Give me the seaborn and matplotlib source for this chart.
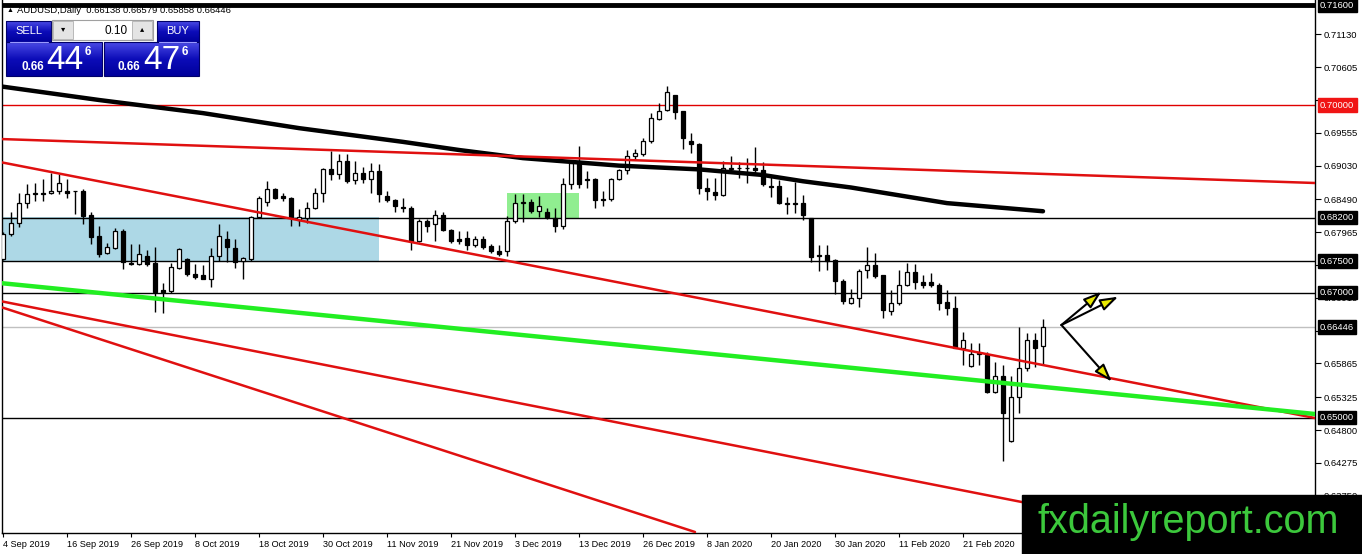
import numpy as np
import matplotlib
matplotlib.use("Agg")
import matplotlib.pyplot as plt
from matplotlib.colors import LinearSegmentedColormap
from matplotlib.patches import Rectangle
import seaborn as sns

# daily AUDUSD candles, 4 Sep 2019 .. 6 Mar 2020
opens = [0.6754, 0.6794, 0.6811, 0.6843, 0.6858, 0.6859, 0.6859, 0.6862, 0.6862, 0.6863,
         0.6863, 0.6824, 0.6790, 0.6764, 0.6772, 0.6799, 0.6747, 0.6745, 0.6759, 0.6747,
         0.6704, 0.6703, 0.6739, 0.6754, 0.6730, 0.6728, 0.6722, 0.6759, 0.6786, 0.6772,
         0.6750, 0.6753, 0.6821, 0.6845, 0.6866, 0.6854, 0.6851, 0.6816, 0.6819, 0.6836,
         0.6859, 0.6898, 0.6889, 0.6911, 0.6880, 0.6891, 0.6882, 0.6895, 0.6855, 0.6848,
         0.6837, 0.6835, 0.6783, 0.6814, 0.6809, 0.6824, 0.6800, 0.6785, 0.6788, 0.6776,
         0.6785, 0.6774, 0.6766, 0.6766, 0.6815, 0.6843, 0.6845, 0.6831, 0.6829, 0.6820,
         0.6807, 0.6873, 0.6908, 0.6882, 0.6882, 0.6850, 0.6850, 0.6882, 0.6896, 0.6918,
         0.6922, 0.6943, 0.6977, 0.6992, 0.7016, 0.6991, 0.6943, 0.6937, 0.6867, 0.6861,
         0.6856, 0.6897, 0.6900, 0.6900, 0.6899, 0.6896, 0.6870, 0.6870, 0.6843, 0.6841,
         0.6844, 0.6819, 0.6760, 0.6760, 0.6752, 0.6719, 0.6683, 0.6691, 0.6736, 0.6744,
         0.6728, 0.6671, 0.6684, 0.6712, 0.6733, 0.6717, 0.6717, 0.6712, 0.6684, 0.6675,
         0.6612, 0.6583, 0.6602, 0.6600, 0.6541, 0.6566, 0.6463, 0.6533, 0.6580, 0.6624,
         0.66138]
highs = [0.6797, 0.6829, 0.6860, 0.6874, 0.6875, 0.6882, 0.6892, 0.6889, 0.6882, 0.6863,
         0.6866, 0.6829, 0.6807, 0.6779, 0.6804, 0.6802, 0.6778, 0.6777, 0.6768, 0.6773,
         0.6716, 0.6748, 0.6771, 0.6756, 0.6746, 0.6744, 0.6771, 0.6809, 0.6799, 0.6786,
         0.6757, 0.6823, 0.6855, 0.6878, 0.6868, 0.6859, 0.6853, 0.6834, 0.6845, 0.6868,
         0.6900, 0.6927, 0.6921, 0.6921, 0.6911, 0.6901, 0.6908, 0.6905, 0.6862, 0.6850,
         0.6852, 0.6838, 0.6818, 0.6818, 0.6832, 0.6829, 0.6802, 0.6799, 0.6799, 0.6791,
         0.6790, 0.6777, 0.6776, 0.6823, 0.6858, 0.6858, 0.6850, 0.6855, 0.6836, 0.6836,
         0.6884, 0.6911, 0.6935, 0.6894, 0.6883, 0.6863, 0.6884, 0.6898, 0.6928, 0.6929,
         0.6948, 0.6987, 0.7003, 0.7030, 0.7016, 0.6991, 0.6956, 0.6940, 0.6884, 0.6883,
         0.6911, 0.6918, 0.6909, 0.6915, 0.6933, 0.6909, 0.6885, 0.6880, 0.6853, 0.6877,
         0.6856, 0.6820, 0.6776, 0.6776, 0.6753, 0.6721, 0.6705, 0.6737, 0.6773, 0.6763,
         0.6728, 0.6704, 0.6736, 0.6748, 0.6745, 0.6728, 0.6731, 0.6715, 0.6704, 0.6694,
         0.6637, 0.6619, 0.6620, 0.6605, 0.6589, 0.6584, 0.6566, 0.6645, 0.6635, 0.6636,
         0.66579]
lows = [0.6752, 0.6790, 0.6805, 0.6835, 0.6847, 0.6846, 0.6858, 0.6858, 0.6851, 0.6826,
        0.6810, 0.6778, 0.6757, 0.6761, 0.6770, 0.6737, 0.6744, 0.6744, 0.6742, 0.6669,
        0.6668, 0.6700, 0.6737, 0.6726, 0.6722, 0.6721, 0.6709, 0.6750, 0.6749, 0.6740,
        0.6721, 0.6750, 0.6819, 0.6838, 0.6850, 0.6847, 0.6807, 0.6807, 0.6811, 0.6834,
        0.6845, 0.6880, 0.6882, 0.6875, 0.6874, 0.6876, 0.6860, 0.6845, 0.6845, 0.6829,
        0.6829, 0.6768, 0.6781, 0.6797, 0.6782, 0.6798, 0.6780, 0.6777, 0.6768, 0.6773,
        0.6770, 0.6764, 0.6758, 0.6759, 0.6812, 0.6813, 0.6827, 0.6821, 0.6818, 0.6797,
        0.6802, 0.6866, 0.6868, 0.6867, 0.6836, 0.6838, 0.6846, 0.6880, 0.6890, 0.6912,
        0.6918, 0.6939, 0.6976, 0.6991, 0.6977, 0.6929, 0.6924, 0.6858, 0.6848, 0.6848,
        0.6854, 0.6892, 0.6884, 0.6876, 0.6888, 0.6870, 0.6853, 0.6842, 0.6826, 0.6827,
        0.6816, 0.6749, 0.6735, 0.6736, 0.6698, 0.6682, 0.6682, 0.6677, 0.6723, 0.6724,
        0.6660, 0.6664, 0.6680, 0.6710, 0.6705, 0.6708, 0.6709, 0.6672, 0.6664, 0.6611,
        0.6584, 0.6581, 0.6584, 0.6539, 0.6540, 0.6431, 0.6461, 0.6508, 0.6575, 0.6581,
        0.65858]
closes = [0.6794, 0.6811, 0.6844, 0.6858, 0.6859, 0.6858, 0.6863, 0.6875, 0.6860, 0.6862,
          0.6823, 0.6789, 0.6762, 0.6772, 0.6798, 0.6749, 0.6745, 0.6762, 0.6746, 0.6701,
          0.6701, 0.6740, 0.6769, 0.6730, 0.6725, 0.6722, 0.6758, 0.6790, 0.6773, 0.6749,
          0.6756, 0.6821, 0.6852, 0.6866, 0.6852, 0.6851, 0.6821, 0.6821, 0.6836, 0.6859,
          0.6898, 0.6889, 0.6910, 0.6879, 0.6891, 0.6882, 0.6895, 0.6858, 0.6848, 0.6838,
          0.6836, 0.6783, 0.6815, 0.6806, 0.6824, 0.6800, 0.6783, 0.6782, 0.6776, 0.6785,
          0.6773, 0.6766, 0.6761, 0.6815, 0.6843, 0.6845, 0.6830, 0.6838, 0.6821, 0.6807,
          0.6873, 0.6908, 0.6874, 0.6880, 0.6848, 0.6848, 0.6882, 0.6896, 0.6918, 0.6924,
          0.6943, 0.6979, 0.6991, 0.7021, 0.6989, 0.6947, 0.6937, 0.6867, 0.6863, 0.6856,
          0.6899, 0.6900, 0.6899, 0.6899, 0.6896, 0.6873, 0.6869, 0.6843, 0.6842, 0.6844,
          0.6824, 0.6757, 0.6759, 0.6751, 0.6719, 0.6687, 0.6691, 0.6735, 0.6744, 0.6727,
          0.6672, 0.6684, 0.6712, 0.6733, 0.6717, 0.6712, 0.6712, 0.6684, 0.6675, 0.6612,
          0.6624, 0.6602, 0.6604, 0.6541, 0.6566, 0.6508, 0.6533, 0.6580, 0.6624, 0.6611,
          0.66446]

date_bars = [0, 8, 16, 24, 32, 40, 48, 56, 64, 72, 80, 88, 96, 104, 112, 120]
date_labels = ['4 Sep 2019', '16 Sep 2019', '26 Sep 2019', '8 Oct 2019', '18 Oct 2019',
               '30 Oct 2019', '11 Nov 2019', '21 Nov 2019', '3 Dec 2019', '13 Dec 2019',
               '26 Dec 2019', '8 Jan 2020', '20 Jan 2020', '30 Jan 2020', '11 Feb 2020',
               '21 Feb 2020']
price_ticks = [0.71130, 0.70605, 0.70080, 0.69555, 0.69030, 0.68490, 0.67965, 0.67440,
               0.66915, 0.66390, 0.65865, 0.65325, 0.64800, 0.64275, 0.63750]

# moving average (thick black)
ma_bars = [-0.4, 12, 25, 37, 50, 57, 65, 77, 87, 95, 100, 106, 118, 130]
ma_vals = [0.7030, 0.7008, 0.6987, 0.6963, 0.6941, 0.6928, 0.6915, 0.6903, 0.6897,
           0.6888, 0.6878, 0.6868, 0.6843, 0.6830]

# horizontal levels
black_levels = [0.682, 0.675, 0.670, 0.650]
red_level = 0.700
top_level = 0.716
last_price = 0.66446

# trend lines: (bar0, price0, bar1, price1)
red_trends = [(-0.4, 0.69456, 164, 0.68752),
              (-0.4, 0.69088, 164, 0.64992),
              (-0.4, 0.66864, 164, 0.62725),
              (-0.4, 0.66773, 86.5, 0.63168)]
green_trend = (-0.4, 0.67152, 164, 0.65056)

# zones
blue_zone = (-0.4, 47, 0.675, 0.682)
green_zone = (63, 72, 0.6818, 0.6860)

# arrows
arrow_from = (132.3, 0.6648)
arrow_tips = [(137.3, 0.67013), (139.4, 0.66933), (138.6, 0.65573)]

boxed_labels = [(0.71600, 'black'), (0.70000, '#f01414'), (0.68200, 'black'),
                (0.67500, 'black'), (0.67000, 'black'), (0.66446, 'black'),
                (0.65000, 'black')]

sns.set_theme(style="white")
plt.rcParams['font.family'] = ['Liberation Sans', 'DejaVu Sans']

W, H = 1362, 554
fig = plt.figure(figsize=(W / 100, H / 100), dpi=100)
ax = fig.add_axes([2 / W, (H - 533) / H, 1313 / W, 533 / H])
ax.set_facecolor('white')

x = np.arange(len(opens))
o = np.array(opens); c = np.array(closes)
hi = np.array(highs); lo = np.array(lows)
up = c >= o
bottom = np.minimum(o, c)
height = np.maximum(np.abs(c - o), 0.00009)

ax.add_patch(Rectangle((blue_zone[0], blue_zone[2]), blue_zone[1] - blue_zone[0],
                       blue_zone[3] - blue_zone[2], color='#add8e6', zorder=0.5, lw=0))
ax.add_patch(Rectangle((green_zone[0], green_zone[2]), green_zone[1] - green_zone[0],
                       green_zone[3] - green_zone[2], color='#90ee90', zorder=0.5, lw=0))

for lv in black_levels:
    ax.axhline(lv, color='black', lw=1, zorder=1)
ax.axhline(red_level, color='#e00000', lw=1, zorder=1)
ax.axhline(last_price, color='#c0c0c0', lw=1, zorder=1)
ax.axhline(top_level, color='black', lw=3.5, zorder=1)

ax.vlines(x, lo, hi, color='black', lw=1, zorder=3)
ax.bar(x[up], height[up], bottom=bottom[up], width=0.62, color='white',
       edgecolor='black', linewidth=0.9, zorder=4)
ax.bar(x[~up], height[~up], bottom=bottom[~up], width=0.62, color='black',
       edgecolor='black', linewidth=0.9, zorder=4)

sns.lineplot(x=ma_bars, y=ma_vals, color='black', lw=3.2, ax=ax, zorder=5)
for b0, p0, b1, p1 in red_trends:
    ax.plot([b0, b1], [p0, p1], color='#e01010', lw=1.8, zorder=5)
ax.plot([green_trend[0], green_trend[2]], [green_trend[1], green_trend[3]],
        color='#22ee22', lw=3.2, zorder=5)

for tx, ty in arrow_tips:
    ax.annotate('', xy=(tx, ty), xytext=arrow_from,
                arrowprops=dict(arrowstyle='-|>,head_length=0.9,head_width=0.3',
                                fc='#e8e800', ec='black', lw=1.5, shrinkA=0, shrinkB=0),
                zorder=6)

ax.set_xlim(-0.125, 164)
ax.set_ylim(0.63152, 0.7168)

ax.yaxis.tick_right()
ax.set_yticks(price_ticks)
ax.set_yticklabels(['%.5f' % t for t in price_ticks])
ax.tick_params(axis='y', direction='out', length=4, width=0.8, pad=2,
               labelsize=6.8, colors='black', right=True, left=False)
ax.set_xticks(date_bars)
ax.set_xticklabels(date_labels, ha='left')
ax.tick_params(axis='x', direction='out', length=3, width=0.8, pad=2,
               labelsize=6.6, colors='black', bottom=True)
for lab in ax.get_xticklabels():
    lab.set_x(0)
for side in ['left', 'right', 'bottom']:
    ax.spines[side].set_color('black')
    ax.spines[side].set_linewidth(1)
ax.spines['top'].set_visible(False)
ax.set_xlabel('')
ax.set_ylabel('')

ytr = ax.get_yaxis_transform()
for val, col in boxed_labels:
    ax.text(1.0 + 5 / 1313, val, '%.5f' % val, transform=ytr, ha='left', va='center',
            color='white', fontsize=6.8, clip_on=False, zorder=20,
            bbox=dict(boxstyle='square,pad=0.25', fc=col, ec=col))

# overlay in pixel coordinates for the trading widget and watermark
ov = fig.add_axes([0, 0, 1, 1], zorder=10)
ov.patch.set_alpha(0)
ov.axis('off')

blue = LinearSegmentedColormap.from_list('b', ['#4a4ae6', '#0c0cb8', '#00009c'])
grad = np.linspace(0, 1, 64).reshape(-1, 1)


def panel(x0, y0, x1, y1):
    ov.imshow(grad, cmap=blue, extent=(x0, x1, y1, y0), aspect='auto', origin='upper',
              zorder=1)
    ov.add_patch(Rectangle((x0, y0), x1 - x0, y1 - y0, fill=False, ec='#00006a',
                           lw=0.8, zorder=2))


panel(6, 21, 51, 42)
panel(157, 21, 199, 42)
panel(6, 42, 102, 76)
panel(104, 42, 199, 76)
ov.plot([10, 48], [41.5, 41.5], color='#9a9aff', lw=0.8, zorder=3)
ov.plot([159, 196], [41.5, 41.5], color='#9a9aff', lw=0.8, zorder=3)
ov.add_patch(Rectangle((52, 20), 101, 20, fc='white', ec='#a0a0a0', lw=0.8, zorder=2))
ov.add_patch(Rectangle((53, 21), 20, 18, fc='#e4e4e4', ec='#b0b0b0', lw=0.6, zorder=3))
ov.add_patch(Rectangle((132, 21), 20, 18, fc='#e4e4e4', ec='#b0b0b0', lw=0.6, zorder=3))
ov.text(63, 30, '\u25be', fontsize=6, ha='center', va='center', color='black', zorder=4)
ov.text(142, 30, '\u25b4', fontsize=6, ha='center', va='center', color='black', zorder=4)
ov.text(128, 30.5, '0.10', fontsize=8.5, ha='right', va='center', color='black', zorder=4)
ov.text(28.5, 31, 'SELL', fontsize=8, ha='center', va='center', color='white', zorder=4)
ov.text(178, 31, 'BUY', fontsize=8, ha='center', va='center', color='white', zorder=4)
for xs, big, xb, xsup in [(21, '44', 46, 85), (118, '47', 143, 182)]:
    ov.text(xs, 70, '0.66', fontsize=8.5, fontweight='bold', ha='left', va='baseline',
            color='white', zorder=4)
    ov.text(xb, 69, big, fontsize=24, ha='left', va='baseline', color='white', zorder=4)
    ov.text(xsup, 55, '6', fontsize=8.5, fontweight='bold', ha='left', va='baseline',
            color='white', zorder=4)

ov.text(7, 10.5, '\u25b2', fontsize=5, ha='left', va='center', color='black', zorder=4)
ov.text(17, 10.5, 'AUDUSD,Daily  0.66138 0.66579 0.65858 0.66446', fontsize=6.8,
        ha='left', va='center', color='black', zorder=4)

ov.add_patch(Rectangle((1022, 495), 340, 59, fc='black', ec='black', zorder=5))
ov.text(1038, 533, 'fxdailyreport.com', fontsize=28.5, ha='left', va='baseline',
        color='#3cc83c', zorder=6)

ov.set_xlim(0, W)
ov.set_ylim(H, 0)

fig.savefig('out.png', dpi=100)
